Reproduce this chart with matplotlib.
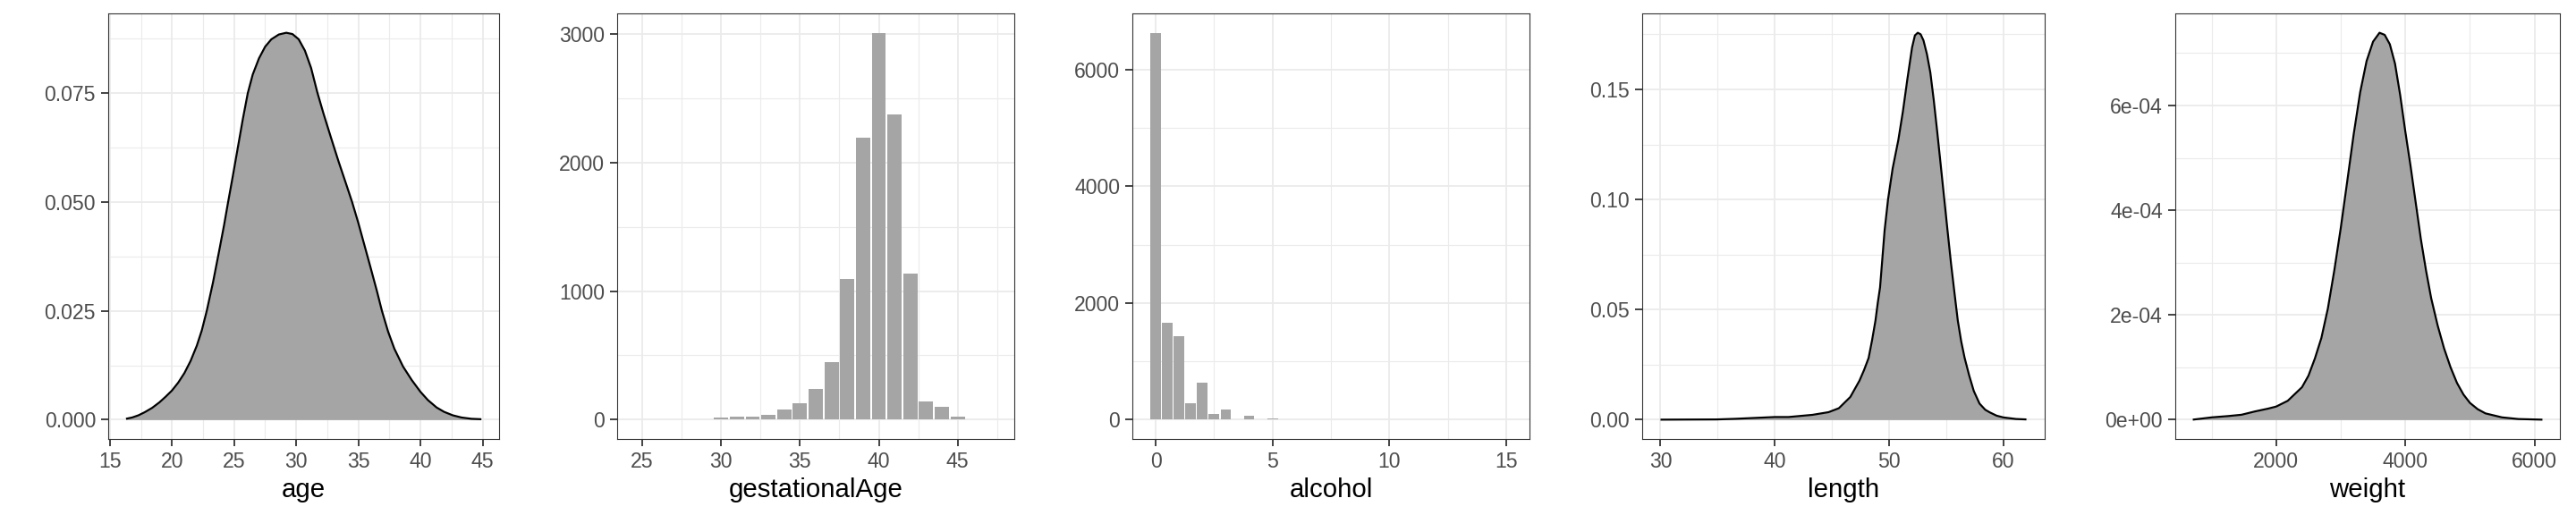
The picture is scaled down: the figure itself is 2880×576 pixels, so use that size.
import matplotlib
matplotlib.use('Agg')
import matplotlib.pyplot as plt
from matplotlib.ticker import FixedLocator, FixedFormatter

# ---------------- data ----------------
age_x = [16.3, 16.8, 17.3, 17.8, 18.4, 19.0, 19.5, 20.0, 20.5, 21.0, 21.5, 22.0,
         22.4, 22.8, 23.3, 23.8, 24.2, 24.5, 24.9, 25.3, 25.7, 26.1, 26.5, 27.0,
         27.5, 28.0, 28.6, 29.2, 29.7, 30.2, 30.7, 31.2, 31.7, 32.2, 32.8, 33.4,
         34.0, 34.5, 35.0, 35.5, 36.0, 36.5, 36.9, 37.4, 37.9, 38.6, 39.3, 40.0,
         40.6, 41.3, 41.9, 42.6, 43.3, 44.1, 44.9]
age_y = [0.0002, 0.0005, 0.0010, 0.0017, 0.0027, 0.0040, 0.0053, 0.0067, 0.0085,
         0.0107, 0.0135, 0.0170, 0.0205, 0.0250, 0.0315, 0.0388, 0.0448, 0.0497,
         0.0560, 0.0625, 0.0690, 0.0750, 0.0793, 0.0830, 0.0857, 0.0874, 0.0885,
         0.0889, 0.0886, 0.0874, 0.0848, 0.0808, 0.0752, 0.0703, 0.0648, 0.0594,
         0.0543, 0.0500, 0.0452, 0.0400, 0.0348, 0.0295, 0.0250, 0.0202, 0.0163,
         0.0122, 0.0091, 0.0064, 0.0045, 0.0028, 0.0018, 0.0010, 0.0005, 0.0002,
         0.0001]

ga_x = [25, 26, 27, 28, 29, 30, 31, 32, 33, 34, 35, 36, 37, 38, 39, 40, 41, 42,
        43, 44, 45, 46, 47]
ga_n = [2, 3, 5, 5, 6, 13, 25, 25, 40, 76, 130, 242, 450, 1098, 2194, 3010, 2372,
        1134, 145, 97, 25, 5, 4]

alc_x = [0, 0.5, 1.0, 1.5, 2.0, 2.5, 3.0, 3.5, 4.0, 4.5, 5.0, 5.5, 6.0, 6.5, 7.0,
         7.5, 8.0, 8.5, 9.0, 10.0, 12.0, 14.0, 15.0]
alc_n = [6635, 1663, 1438, 275, 640, 90, 180, 11, 73, 10, 28, 5, 10, 3, 8, 3, 8,
         2, 8, 2, 1, 5, 1]

len_x = [30.0, 34.9, 36.6, 40.0, 41.2, 43.3, 44.7, 45.6, 46.6, 47.4, 47.8, 48.2,
         48.5, 48.8, 49.0, 49.2, 49.4, 49.6, 49.9, 50.3, 50.8, 51.2, 51.6, 52.0,
         52.25, 52.5, 52.75, 53.0, 53.3, 53.6, 53.9, 54.2, 54.5, 54.8, 55.1, 55.4,
         55.7, 56.0, 56.3, 56.6, 57.0, 57.4, 57.9, 58.4, 58.8, 59.4, 60.0, 61.1,
         62.0]
len_y = [0.0000, 0.0001, 0.0004, 0.0012, 0.0012, 0.0022, 0.0034, 0.0052, 0.0103,
         0.0177, 0.0225, 0.0280, 0.0360, 0.0450, 0.0530, 0.0600, 0.0730, 0.0860,
         0.1000, 0.1140, 0.1270, 0.1400, 0.1550, 0.1690, 0.1745, 0.1757, 0.1750,
         0.1722, 0.1660, 0.1576, 0.1450, 0.1308, 0.1160, 0.1010, 0.0860, 0.0713,
         0.0580, 0.0450, 0.0355, 0.0280, 0.0200, 0.0130, 0.0073, 0.0045, 0.0033,
         0.0018, 0.0010, 0.0003, 0.0001]

wt_x = [709, 1005, 1260, 1464, 1668, 1872, 2000, 2179, 2400, 2500, 2600, 2700,
        2800, 2900, 3000, 3100, 3200, 3300, 3400, 3500, 3600, 3680, 3760, 3840,
        3920, 4000, 4080, 4160, 4240, 4320, 4400, 4500, 4600, 4700, 4800, 4900,
        5000, 5120, 5240, 5495, 5750, 6122]
wt_y = [0.0, 4.4e-6, 6.9e-6, 9.4e-6, 1.56e-5, 2.1e-5, 2.5e-5, 3.6e-5, 6.2e-5,
        8.4e-5, 1.17e-4, 1.56e-4, 2.12e-4, 2.85e-4, 3.66e-4, 4.55e-4, 5.45e-4,
        6.25e-4, 6.85e-4, 7.22e-4, 7.39e-4, 7.35e-4, 7.17e-4, 6.8e-4, 6.2e-4,
        5.5e-4, 4.85e-4, 4.15e-4, 3.45e-4, 2.85e-4, 2.32e-4, 1.8e-4, 1.36e-4,
        1.0e-4, 7.0e-5, 4.8e-5, 3.2e-5, 2.0e-5, 1.2e-5, 4.4e-6, 1.2e-6, 0.0]

age_ticks = [15, 20, 25, 30, 35, 40, 45]
age_yticks = [0.0, 0.025, 0.05, 0.075]
age_ylabels = ['0.000', '0.025', '0.050', '0.075']
ga_ticks = [25, 30, 35, 40, 45]
ga_yticks = [0, 1000, 2000, 3000]
alc_ticks = [0, 5, 10, 15]
alc_yticks = [0, 2000, 4000, 6000]
len_ticks = [30, 40, 50, 60]
len_yticks = [0.0, 0.05, 0.10, 0.15]
len_ylabels = ['0.00', '0.05', '0.10', '0.15']
wt_ticks = [2000, 4000, 6000]
wt_yticks = [0, 2e-4, 4e-4, 6e-4]
wt_ylabels = ['0e+00', '2e-04', '4e-04', '6e-04']

# ---------------- style ----------------
plt.rcParams['font.family'] = ['Liberation Sans', 'DejaVu Sans']
FILL = '#A5A5A5'
GRID = '#EBEBEB'
DARK = '#333333'
TICKTXT = '#4D4D4D'

W, H = 2880, 576
fig = plt.figure(figsize=(20, 4), dpi=144)
boxes = [(121, 558), (690, 1134), (1266, 1710), (1836, 2286), (2432, 2862)]
top, bottom = 15, 491
axes = [fig.add_axes([l / W, (H - bottom) / H, (r - l) / W, (bottom - top) / H])
        for l, r in boxes]


def expand(lo, hi, m=0.05):
    d = hi - lo
    return lo - m * d, hi + m * d


def style(ax, xt, xl, yt, yl, xmin_ticks, ymin_ticks, label):
    ax.set_facecolor('white')
    ax.set_axisbelow(True)
    for s in ax.spines.values():
        s.set_color(DARK)
        s.set_linewidth(0.55)
    ax.xaxis.set_major_locator(FixedLocator(xt))
    ax.xaxis.set_major_formatter(FixedFormatter(xl))
    ax.yaxis.set_major_locator(FixedLocator(yt))
    ax.yaxis.set_major_formatter(FixedFormatter(yl))
    ax.xaxis.set_minor_locator(FixedLocator(xmin_ticks))
    ax.yaxis.set_minor_locator(FixedLocator(ymin_ticks))
    ax.grid(True, which='major', color=GRID, linewidth=0.95)
    ax.grid(True, which='minor', color=GRID, linewidth=0.55)
    ax.tick_params(which='major', length=4, width=0.9, color=DARK,
                   labelcolor=TICKTXT, labelsize=11.5, pad=3)
    ax.tick_params(which='minor', length=0)
    ax.set_xlabel(label, fontsize=14.7, color='black', labelpad=3)


def density(ax, x, y):
    ax.fill_between(x, y, 0, color=FILL, linewidth=0, zorder=2)
    ax.plot(x, y, color='black', linewidth=1.1, zorder=3,
            solid_capstyle='butt', solid_joinstyle='round')


# age
ax = axes[0]
density(ax, age_x, age_y)
ax.set_xlim(*expand(min(age_x), max(age_x)))
ax.set_ylim(*expand(0, max(age_y)))
style(ax, age_ticks, [str(t) for t in age_ticks], age_yticks, age_ylabels,
      [17.5, 22.5, 27.5, 32.5, 37.5, 42.5],
      [0.0125, 0.0375, 0.0625, 0.0875], 'age')

# gestationalAge
ax = axes[1]
ax.bar(ga_x, ga_n, width=0.9, color=FILL, linewidth=0, zorder=2)
ax.set_xlim(*expand(min(ga_x) - 0.45, max(ga_x) + 0.45))
ax.set_ylim(*expand(0, max(ga_n)))
style(ax, ga_ticks, [str(t) for t in ga_ticks], ga_yticks,
      [str(t) for t in ga_yticks], [27.5, 32.5, 37.5, 42.5, 47.5],
      [500, 1500, 2500], 'gestationalAge')

# alcohol
ax = axes[2]
ax.bar(alc_x, alc_n, width=0.45, color=FILL, linewidth=0, zorder=2)
ax.set_xlim(*expand(min(alc_x) - 0.225, max(alc_x) + 0.225))
ax.set_ylim(*expand(0, max(alc_n)))
style(ax, alc_ticks, [str(t) for t in alc_ticks], alc_yticks,
      [str(t) for t in alc_yticks], [2.5, 7.5, 12.5],
      [1000, 3000, 5000], 'alcohol')

# length
ax = axes[3]
density(ax, len_x, len_y)
ax.set_xlim(*expand(min(len_x), max(len_x)))
ax.set_ylim(*expand(0, max(len_y)))
style(ax, len_ticks, [str(t) for t in len_ticks], len_yticks, len_ylabels,
      [35, 45, 55], [0.025, 0.075, 0.125, 0.175], 'length')

# weight
ax = axes[4]
density(ax, wt_x, wt_y)
ax.set_xlim(*expand(min(wt_x), max(wt_x)))
ax.set_ylim(*expand(0, max(wt_y)))
style(ax, wt_ticks, [str(t) for t in wt_ticks], wt_yticks, wt_ylabels,
      [1000, 3000, 5000], [1e-4, 3e-4, 5e-4, 7e-4], 'weight')

fig.savefig('out.png', dpi=144, facecolor='white')
